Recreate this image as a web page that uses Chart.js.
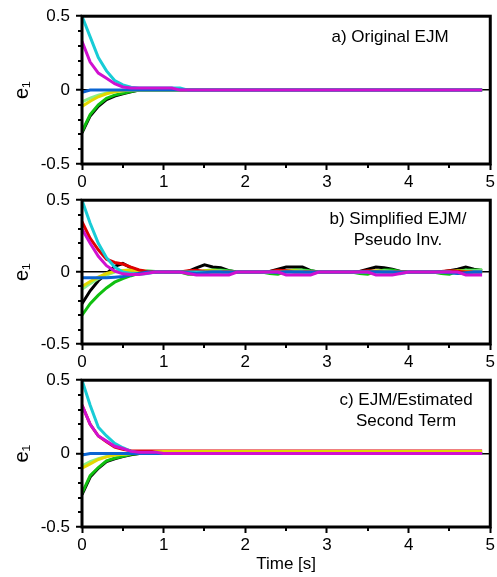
<!DOCTYPE html>
<html>
<head>
<meta charset="utf-8">
<script src="https://cdn.jsdelivr.net/npm/chart.js@4.4.1/dist/chart.umd.min.js"></script>
<style>
  html, body { margin: 0; padding: 0; background: #fff; }
  body { width: 497px; height: 577px; position: relative; overflow: hidden; }
  canvas { position: absolute; left: 0; }
</style>
</head>
<body>
<canvas id="panelA" width="497" height="188" style="top:0px"></canvas>
<canvas id="panelB" width="497" height="184" style="top:184px"></canvas>
<canvas id="panelC" width="497" height="213" style="top:364px"></canvas>
<script>
// time axis [s]
const time = [
  0.0, 0.1, 0.2, 0.3, 0.4, 0.5, 0.6, 0.7, 0.8, 0.9,
  1.0, 1.1, 1.2, 1.3, 1.4, 1.5, 1.6, 1.7, 1.8, 1.9,
  2.0, 2.1, 2.2, 2.3, 2.4, 2.5, 2.6, 2.7, 2.8, 2.9,
  3.0, 3.1, 3.2, 3.3, 3.4, 3.5, 3.6, 3.7, 3.8, 3.9,
  4.0, 4.1, 4.2, 4.3, 4.4, 4.5, 4.6, 4.7, 4.8, 4.9
];
const xTicks = [0, 1, 2, 3, 4, 5];
const xMinorTicks = [0.5, 1.5, 2.5, 3.5, 4.5];
const yTicks = [-0.5, 0, 0.5];
const yMinorTicks = [-0.4, -0.3, -0.2, -0.1, 0.1, 0.2, 0.3, 0.4];

// a) Original EJM
const cyanA = [
  0.5, 0.36, 0.22, 0.13, 0.065, 0.035, 0.02, 0.015, 0.015, 0.015,
  0.015, 0.015, 0.015, 0, 0, 0, 0, 0, 0, 0,
  0, 0, 0, 0, 0, 0, 0, 0, 0, 0,
  0, 0, 0, 0, 0, 0, 0, 0, 0, 0,
  0, 0, 0, 0, 0, 0, 0, 0, 0, 0
];
const magentaA = [
  0.33, 0.19, 0.115, 0.08, 0.043, 0.021, 0.014, 0.014, 0.014, 0.014,
  0.014, 0.014, 0, 0, 0, 0, 0, 0, 0, 0,
  0, 0, 0, 0, 0, 0, 0, 0, 0, 0,
  0, 0, 0, 0, 0, 0, 0, 0, 0, 0,
  0, 0, 0, 0, 0, 0, 0, 0, 0, 0
];
const blueA = [
  -0.015, 0, 0, 0, 0, 0, 0, 0, 0, 0,
  0, 0, 0, 0, 0, 0, 0, 0, 0, 0,
  0, 0, 0, 0, 0, 0, 0, 0, 0, 0,
  0, 0, 0, 0, 0, 0, 0, 0, 0, 0,
  0, 0, 0, 0, 0, 0, 0, 0, 0, 0
];
const yellowA = [
  -0.11, -0.075, -0.045, -0.025, -0.012, -0.005, 0, 0, 0, 0,
  0, 0, 0, 0, 0, 0, 0, 0, 0, 0,
  0, 0, 0, 0, 0, 0, 0, 0, 0, 0,
  0, 0, 0, 0, 0, 0, 0, 0, 0, 0,
  0, 0, 0, 0, 0, 0, 0, 0, 0, 0
];
const lightGreenA = [
  -0.08, -0.055, -0.035, -0.02, -0.01, -0.004, 0, 0, 0, 0,
  0, 0, 0, 0, 0, 0, 0, 0, 0, 0,
  0, 0, 0, 0, 0, 0, 0, 0, 0, 0,
  0, 0, 0, 0, 0, 0, 0, 0, 0, 0,
  0, 0, 0, 0, 0, 0, 0, 0, 0, 0
];
const greenA = [
  -0.28, -0.165, -0.1, -0.056, -0.034, -0.022, -0.01, 0, 0, 0,
  0, 0, 0, 0, 0, 0, 0, 0, 0, 0,
  0, 0, 0, 0, 0, 0, 0, 0, 0, 0,
  0, 0, 0, 0, 0, 0, 0, 0, 0, 0,
  0, 0, 0, 0, 0, 0, 0, 0, 0, 0
];
const blackA = [
  -0.29, -0.175, -0.11, -0.065, -0.04, -0.025, -0.012, 0, 0, 0,
  0, 0, 0, 0, 0, 0, 0, 0, 0, 0,
  0, 0, 0, 0, 0, 0, 0, 0, 0, 0,
  0, 0, 0, 0, 0, 0, 0, 0, 0, 0,
  0, 0, 0, 0, 0, 0, 0, 0, 0, 0
];

// b) Simplified EJM / Pseudo Inv.
const magentaB = [
  0.3, 0.2, 0.11, 0.045, 0.007, -0.012, -0.016, -0.016, -0.008, 0,
  0, 0, 0, -0.01, -0.02, -0.02, -0.02, -0.02, -0.02, 0,
  0, 0, 0, 0, 0, -0.02, -0.02, -0.02, -0.02, 0,
  0, 0, 0, 0, 0, 0, -0.02, -0.02, -0.02, -0.01,
  0, 0, 0, 0, 0, 0, 0, -0.02, -0.02, -0.02
];
const blueB = [
  -0.04, -0.04, -0.04, -0.04, -0.035, -0.03, -0.02, -0.01, 0, 0,
  0, 0, 0, -0.005, -0.01, -0.005, 0, 0, 0, 0,
  0, 0, 0, 0, -0.005, 0, 0, 0, 0, 0,
  0, 0, 0, 0, 0, 0, 0, 0, 0, 0,
  0, 0, 0, 0, 0, -0.005, -0.01, -0.005, 0, 0
];
const cyanB = [
  0.5, 0.34, 0.2, 0.1, 0.035, 0, -0.01, -0.015, -0.01, 0,
  0, 0, 0, 0, 0, 0, 0, 0, -0.01, 0,
  0, 0, 0, 0, 0, 0, 0, 0, -0.012, 0,
  0, 0, 0, 0, 0, 0, 0, 0, 0, -0.012,
  0, 0, 0, 0, 0, 0, -0.008, -0.012, 0, 0
];
const redB = [
  0.35, 0.235, 0.155, 0.09, 0.067, 0.056, 0.034, 0.015, 0.005, 0,
  0, 0, 0, 0.01, 0.012, 0.005, 0, 0, 0, 0,
  0, 0, 0, 0.005, 0.012, 0.01, 0, 0, 0, 0,
  0, 0, 0, 0, 0.005, 0.01, 0.005, 0, 0, 0,
  0, 0, 0, 0, 0.005, 0.01, 0.005, 0, 0, 0
];
const yellowB = [
  -0.1, -0.065, -0.035, -0.01, 0.005, 0.012, 0.015, 0.012, 0.005, 0,
  0, 0, 0, 0, 0.005, 0.01, 0.01, 0.005, 0, 0,
  0, 0, 0, 0, 0.005, 0.01, 0.01, 0.005, 0, 0,
  0, 0, 0, 0, 0, 0.005, 0.01, 0.005, 0, 0,
  0, 0, 0, 0, 0, 0.005, 0.01, 0.005, 0, 0
];
const lightGreenB = [
  -0.12, -0.08, -0.045, -0.02, 0, 0.01, 0.015, 0.01, 0.005, 0,
  0, 0, 0, 0, 0, 0.005, 0.01, 0.01, 0.005, 0,
  0, 0, 0, 0, 0, 0.005, 0.01, 0.01, 0.005, 0,
  0, 0, 0, 0, 0, 0, 0.005, 0.01, 0.005, 0,
  0, 0, 0, 0, 0, 0, 0.005, 0.01, 0.01, 0.01
];
const greenB = [
  -0.3, -0.22, -0.16, -0.11, -0.07, -0.045, -0.025, -0.008, 0.008, 0.005,
  0, 0, 0, -0.015, -0.015, 0.01, 0.015, 0.015, 0.01, 0,
  0, 0, 0, -0.01, -0.015, 0.005, 0.015, 0.015, 0.01, 0,
  0, 0, 0, 0, -0.01, -0.015, 0.005, 0.015, 0.015, 0.005,
  0, 0, 0, 0, -0.01, -0.015, 0.005, 0.015, 0.015, 0.015
];
const blackB = [
  -0.22, -0.13, -0.06, -0.01, 0.04, 0.06, 0.03, 0.01, 0, 0,
  0, 0, 0, 0.005, 0.03, 0.05, 0.035, 0.03, 0.01, 0,
  0, 0, 0, 0.005, 0.02, 0.035, 0.035, 0.035, 0.01, 0,
  0, 0, 0, 0, 0.005, 0.02, 0.035, 0.03, 0.02, 0.005,
  0, 0, 0, 0, 0, 0.01, 0.02, 0.035, 0.02, 0.01
];

// c) EJM / Estimated Second Term
const magentaC = [
  0.33, 0.2, 0.12, 0.085, 0.05, 0.035, 0.015, 0.01, 0.01, 0.01,
  0, 0, 0, 0, 0, 0, 0, 0, 0, 0,
  0, 0, 0, 0, 0, 0, 0, 0, 0, 0,
  0, 0, 0, 0, 0, 0, 0, 0, 0, 0,
  0, 0, 0, 0, 0, 0, 0, 0, 0, 0
];
const blueC = [
  -0.01, 0, 0, 0, 0, 0, 0, 0, 0, 0,
  0, 0, 0, 0, 0, 0, 0, 0, 0, 0,
  0, 0, 0, 0, 0, 0, 0, 0, 0, 0,
  0, 0, 0, 0, 0, 0, 0, 0, 0, 0,
  0, 0, 0, 0, 0, 0, 0, 0, 0, 0
];
const cyanC = [
  0.5, 0.33, 0.18, 0.12, 0.07, 0.04, 0.015, 0.005, 0, 0,
  0, 0, 0, 0, 0, 0, 0, 0, 0, 0,
  0, 0, 0, 0, 0, 0, 0, 0, 0, 0,
  0, 0, 0, 0, 0, 0, 0, 0, 0, 0,
  0, 0, 0, 0, 0, 0, 0, 0, 0, 0
];
const yellowC = [
  -0.1, -0.07, -0.04, -0.022, -0.01, -0.004, 0, 0, 0, 0.012,
  0.015, 0.015, 0.015, 0.015, 0.015, 0.015, 0.015, 0.015, 0.015, 0.015,
  0.015, 0.015, 0.015, 0.015, 0.015, 0.015, 0.015, 0.015, 0.015, 0.015,
  0.015, 0.015, 0.015, 0.015, 0.015, 0.015, 0.015, 0.015, 0.015, 0.015,
  0.015, 0.015, 0.015, 0.015, 0.015, 0.015, 0.015, 0.015, 0.015, 0.015
];
const redC = [
  0.33, 0.2, 0.12, 0.08, 0.045, 0.03, 0.02, 0.018, 0.018, 0.018,
  0.018, 0.018, 0.018, 0.018, 0.018, 0.018, 0.018, 0.018, 0.018, 0.018,
  0.018, 0.018, 0.018, 0.018, 0.018, 0.018, 0.018, 0.018, 0.018, 0.018,
  0.018, 0.018, 0.018, 0.018, 0.018, 0.018, 0.018, 0.018, 0.018, 0.018,
  0.018, 0.018, 0.018, 0.018, 0.018, 0.018, 0.018, 0.018, 0.018, 0.018
];
const lightGreenC = [
  -0.085, -0.055, -0.035, -0.02, -0.01, -0.004, 0, 0, 0, 0,
  0, 0, 0, 0, 0, 0, 0, 0, 0, 0,
  0, 0, 0, 0, 0, 0, 0, 0, 0, 0,
  0, 0, 0, 0, 0, 0, 0, 0, 0, 0,
  0, 0, 0, 0, 0, 0, 0, 0, 0, 0
];
const greenC = [
  -0.27, -0.15, -0.095, -0.05, -0.032, -0.018, -0.005, 0, 0, 0,
  0, 0, 0, 0, 0, 0, 0, 0, 0, 0,
  0, 0, 0, 0, 0, 0, 0, 0, 0, 0,
  0, 0, 0, 0, 0, 0, 0, 0, 0, 0,
  0, 0, 0, 0, 0, 0, 0, 0, 0, 0
];
const blackC = [
  -0.28, -0.16, -0.1, -0.055, -0.035, -0.02, -0.008, 0, 0, 0,
  0, 0, 0, 0, 0, 0, 0, 0, 0, 0,
  0, 0, 0, 0, 0, 0, 0, 0, 0, 0,
  0, 0, 0, 0, 0, 0, 0, 0, 0, 0,
  0, 0, 0, 0, 0, 0, 0, 0, 0, 0
];

const COLORS = {
  magenta: '#d010d0', blue: '#0a64d2', cyan: '#18ccd6', red: '#e00000',
  yellow: '#e2d800', lightGreen: '#88f088', green: '#10c010', black: '#000000'
};
const FONT = "'Liberation Sans', Arial, Helvetica, sans-serif";

function line(values, color) {
  return {
    data: values.map((v, i) => ({ x: time[i], y: v })),
    borderColor: color,
    borderWidth: 3,
    pointRadius: 0,
    tension: 0,
    fill: false
  };
}

// frame, minor ticks and panel note
const decorPlugin = {
  id: 'decor',
  afterDraw(chart, args, opts) {
    const { ctx, chartArea: a, scales } = chart;
    ctx.save();
    ctx.strokeStyle = '#000';
    ctx.lineWidth = 2;
    ctx.beginPath();
    yMinorTicks.forEach(v => {
      const y = Math.round(scales.y.getPixelForValue(v));
      ctx.moveTo(a.left - 4, y);
      ctx.lineTo(a.left, y);
    });
    xMinorTicks.forEach(v => {
      const x = Math.round(scales.x.getPixelForValue(v));
      ctx.moveTo(x, a.bottom);
      ctx.lineTo(x, a.bottom + 4);
    });
    ctx.stroke();
    ctx.lineWidth = 3;
    ctx.strokeRect(a.left, a.top, a.right - a.left, a.bottom - a.top);
    ctx.fillStyle = '#000';
    ctx.font = '17px ' + FONT;
    ctx.textAlign = 'center';
    ctx.textBaseline = 'alphabetic';
    opts.lines.forEach((t, i) => ctx.fillText(t, opts.x, opts.y + i * 21.5));
    ctx.restore();
  }
};

function makePanel(id, datasets, note, padTop, xHeight, showTitle) {
  new Chart(document.getElementById(id), {
    type: 'line',
    data: { datasets: datasets },
    options: {
      responsive: false,
      animation: false,
      layout: { padding: { top: padTop, right: 6, left: 0, bottom: 0 } },
      plugins: {
        legend: { display: false },
        tooltip: { enabled: false },
        decor: note
      },
      scales: {
        x: {
          type: 'linear', min: 0, max: 5,
          afterBuildTicks: s => { s.ticks = xTicks.map(v => ({ value: v })); },
          afterFit: s => { s.height = xHeight; },
          border: { display: false },
          grid: { drawOnChartArea: false, drawTicks: true, tickLength: 6, tickWidth: 2, tickColor: '#000' },
          ticks: { color: '#000', font: { family: FONT, size: 17 }, padding: 2, maxRotation: 0 },
          title: { display: showTitle, text: 'Time [s]', color: '#000', font: { family: FONT, size: 17 }, padding: { top: 0, bottom: 2 } }
        },
        y: {
          min: -0.5, max: 0.5,
          afterBuildTicks: s => { s.ticks = yTicks.map(v => ({ value: v })); },
          afterFit: s => { s.width = 82; },
          border: { display: false },
          grid: {
            drawTicks: true, tickLength: 6, tickWidth: 2, tickColor: '#000',
            color: c => (c.tick && c.tick.value === 0 ? '#000' : 'rgba(0,0,0,0)'),
            lineWidth: 1.5
          },
          ticks: {
            color: '#000', font: { family: FONT, size: 17 }, padding: 6,
            callback: v => (v === 0 ? '0' : v.toFixed(1))
          },
          title: { display: true, text: 'e\u2081', color: '#000', font: { family: FONT, size: 20 }, padding: { top: 10, bottom: 0 } }
        }
      }
    },
    plugins: [decorPlugin]
  });
}

makePanel('panelA', [
  line(magentaA, COLORS.magenta), line(blueA, COLORS.blue), line(cyanA, COLORS.cyan),
  line(yellowA, COLORS.yellow), line(lightGreenA, COLORS.lightGreen),
  line(greenA, COLORS.green), line(blackA, COLORS.black)
], { lines: ['a) Original EJM'], x: 390, y: 41.5 }, 12, 24, false);

makePanel('panelB', [
  line(magentaB, COLORS.magenta), line(blueB, COLORS.blue), line(cyanB, COLORS.cyan),
  line(redB, COLORS.red), line(yellowB, COLORS.yellow), line(lightGreenB, COLORS.lightGreen),
  line(greenB, COLORS.green), line(blackB, COLORS.black)
], { lines: ['b) Simplified EJM/', 'Pseudo Inv.'], x: 398, y: 39.5 }, 12, 24, false);

makePanel('panelC', [
  line(magentaC, COLORS.magenta), line(blueC, COLORS.blue), line(cyanC, COLORS.cyan),
  line(yellowC, COLORS.yellow), line(redC, COLORS.red), line(lightGreenC, COLORS.lightGreen),
  line(greenC, COLORS.green), line(blackC, COLORS.black)
], { lines: ['c) EJM/Estimated', 'Second Term'], x: 406, y: 40.5 }, 11, 50, true);
</script>
</body>
</html>
